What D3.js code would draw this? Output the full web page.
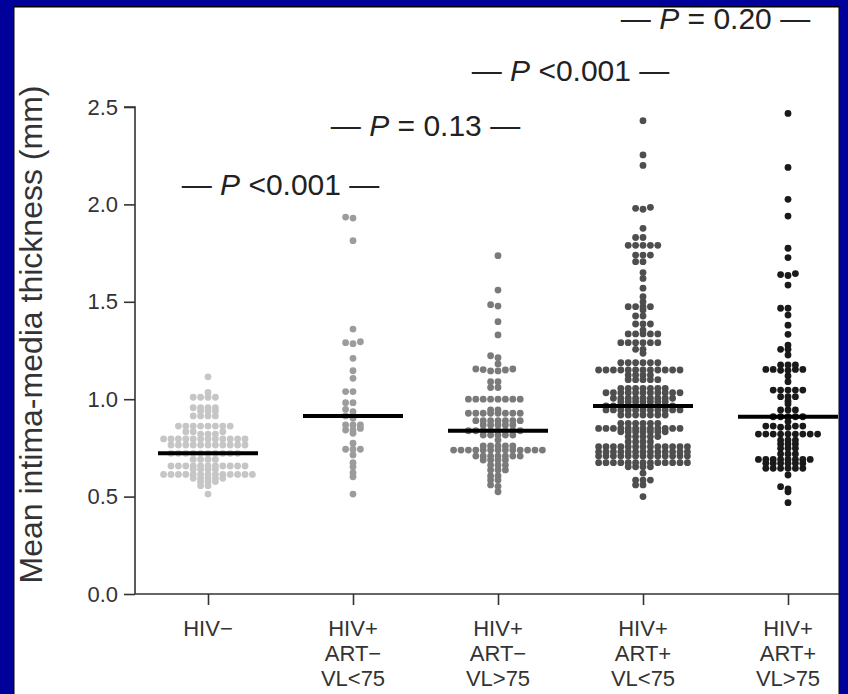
<!DOCTYPE html>
<html><head><meta charset="utf-8">
<script src="https://cdn.jsdelivr.net/npm/d3@7"></script>
<style>html,body{margin:0;padding:0;background:#00009a;overflow:hidden} svg{display:block}</style>
</head><body>
<svg id="c" width="848" height="694"></svg>
<script>
// ---------- data ----------
const categories = ["HIV−", "HIV+ ART− VL<75", "HIV+ ART− VL>75", "HIV+ ART+ VL<75", "HIV+ ART+ VL>75"];
const tickLabelLines = [["HIV−"], ["HIV+", "ART−", "VL<75"], ["HIV+", "ART−", "VL>75"], ["HIV+", "ART+", "VL<75"], ["HIV+", "ART+", "VL>75"]];
const yTicks = [0, 0.5, 1.0, 1.5, 2.0, 2.5];
const yTitle = "Mean intima-media thickness (mm)";

const hivNeg = [1.115, 1.035, 1.01, 1.01, 1.01, 1.01, 0.956, 0.956, 0.956, 0.956, 0.94, 0.94, 0.94,
  0.914, 0.914, 0.914, 0.914, 0.862, 0.862, 0.862, 0.862, 0.862, 0.862, 0.862, 0.862,
  0.833, 0.833, 0.833, 0.821, 0.821, 0.821,
  0.796, 0.796, 0.796, 0.796, 0.796, 0.796, 0.796, 0.796, 0.796, 0.796, 0.796, 0.796,
  0.765, 0.765, 0.765, 0.765, 0.765, 0.765, 0.765, 0.765, 0.765, 0.765, 0.765,
  0.722, 0.722, 0.722, 0.722, 0.722, 0.722, 0.722, 0.722, 0.722, 0.722,
  0.691, 0.691, 0.691, 0.691,
  0.657, 0.657, 0.657, 0.657, 0.657, 0.657, 0.657, 0.657, 0.657, 0.657, 0.657,
  0.64, 0.64, 0.64, 0.64,
  0.614, 0.614, 0.614, 0.614, 0.614, 0.614, 0.614, 0.614, 0.614, 0.614, 0.614, 0.614, 0.614,
  0.594, 0.594, 0.594, 0.594, 0.594, 0.577, 0.577, 0.577, 0.556, 0.556, 0.513];

const artNegVlLow = [1.935, 1.93, 1.814, 1.36, 1.295, 1.285, 1.29, 1.21, 1.146, 1.107, 1.039, 1.039,
  0.982, 0.982, 0.948, 0.936, 0.914, 0.902, 0.868, 0.868, 0.868, 0.85, 0.842, 0.842, 0.825,
  0.774, 0.743, 0.743, 0.743, 0.714, 0.674, 0.653, 0.623, 0.602, 0.513];

const artNegVlHigh = [1.737, 1.56, 1.485, 1.478, 1.398, 1.33, 1.223, 1.213, 1.181,
  1.155, 1.155, 1.152, 1.15, 1.145, 1.145, 1.09, 1.09, 1.06, 1.06,
  1.0, 1.0, 1.0, 1.0, 1.0, 1.0, 1.0, 1.0, 0.945, 0.945,
  0.928, 0.928, 0.928, 0.928, 0.928, 0.928, 0.928, 0.928,
  0.89, 0.89, 0.89, 0.89, 0.89, 0.89, 0.89, 0.868, 0.868, 0.868, 0.868, 0.868,
  0.838, 0.838, 0.838, 0.838, 0.838, 0.838, 0.838, 0.838, 0.816, 0.816, 0.816, 0.816, 0.816,
  0.79, 0.76, 0.76, 0.76, 0.76, 0.76,
  0.739, 0.739, 0.739, 0.739, 0.739, 0.739, 0.739, 0.739, 0.739, 0.739, 0.739, 0.739, 0.739,
  0.708, 0.708, 0.708, 0.708, 0.708, 0.708, 0.708, 0.688, 0.688, 0.688, 0.688,
  0.662, 0.662, 0.662, 0.637, 0.637, 0.637, 0.606, 0.606, 0.585, 0.585, 0.56, 0.553, 0.525];

const artPosVlLow = [2.43, 2.254, 2.2, 1.98, 1.985, 1.975, 1.877, 1.83, 1.83,
  1.79, 1.79, 1.79, 1.79, 1.79, 1.74, 1.74, 1.74, 1.706, 1.706,
  1.65, 1.62, 1.57, 1.526, 1.5, 1.475, 1.475, 1.475, 1.475, 1.458, 1.427, 1.427,
  1.386, 1.386, 1.386, 1.355, 1.335, 1.335, 1.335, 1.335, 1.335,
  1.29, 1.29, 1.29, 1.29, 1.29, 1.29, 1.256, 1.256, 1.236,
  1.187, 1.187, 1.187, 1.187, 1.187, 1.187,
  1.15, 1.15, 1.15, 1.15, 1.15, 1.15, 1.15, 1.15, 1.15, 1.15, 1.15, 1.15,
  1.124, 1.124, 1.124, 1.124, 1.1, 1.1, 1.1, 1.1, 1.1,
  1.056, 1.056, 1.056, 1.056, 1.056, 1.056, 1.056,
  1.033, 1.033, 1.033, 1.033, 1.033, 1.033, 1.033, 1.033, 1.033, 1.033, 1.033,
  1.005, 1.005, 1.005, 1.005, 1.005, 1.005, 1.005, 1.005, 1.005,
  0.987, 0.987, 0.987, 0.987, 0.987, 0.987, 0.987,
  0.965, 0.965, 0.965, 0.965, 0.965, 0.965, 0.965, 0.965, 0.965, 0.965,
  0.945, 0.945, 0.945, 0.945, 0.945, 0.945, 0.945, 0.945, 0.945, 0.945, 0.945,
  0.919, 0.919, 0.919, 0.919, 0.919, 0.919, 0.919,
  0.876, 0.876, 0.876, 0.876, 0.876, 0.876,
  0.85, 0.85, 0.85, 0.85, 0.85, 0.85, 0.85, 0.85, 0.85, 0.85, 0.85, 0.85,
  0.833, 0.833, 0.833, 0.833, 0.833, 0.833, 0.833,
  0.808, 0.808, 0.808, 0.808, 0.808, 0.782, 0.782, 0.782, 0.782,
  0.756, 0.756, 0.756, 0.756, 0.756, 0.756, 0.756, 0.756, 0.756, 0.756, 0.756, 0.756, 0.756,
  0.73, 0.73, 0.73, 0.73, 0.73, 0.73, 0.73, 0.73, 0.73, 0.73, 0.73, 0.73, 0.73,
  0.708, 0.708, 0.708, 0.708, 0.708, 0.708, 0.708, 0.708, 0.708, 0.708, 0.708, 0.708, 0.708,
  0.674, 0.674, 0.674, 0.674, 0.674, 0.674, 0.674, 0.674, 0.674, 0.674, 0.674, 0.674, 0.674,
  0.653, 0.653, 0.653, 0.653, 0.62, 0.585, 0.585, 0.585, 0.56, 0.56, 0.5];

const artPosVlHigh = [2.467, 2.19, 2.026, 1.94, 1.775, 1.727, 1.645, 1.64, 1.635, 1.586,
  1.467, 1.467, 1.432, 1.38, 1.333, 1.278, 1.256, 1.256, 1.227,
  1.176, 1.176, 1.176, 1.153, 1.153, 1.153, 1.153, 1.148, 1.148, 1.119, 1.09,
  1.047, 1.047, 1.047, 1.047, 1.047, 1.013, 1.013, 1.013, 0.99, 0.975,
  0.945, 0.945, 0.945, 0.91, 0.91, 0.91, 0.91, 0.91, 0.885,
  0.862, 0.862, 0.862, 0.862, 0.856, 0.856,
  0.821, 0.821, 0.821, 0.821, 0.821, 0.821, 0.821, 0.821, 0.821,
  0.79, 0.79, 0.79, 0.77, 0.77, 0.77, 0.748, 0.748, 0.748, 0.719, 0.719, 0.719,
  0.691, 0.691, 0.691, 0.691, 0.691, 0.691, 0.691, 0.691,
  0.671, 0.671, 0.671, 0.671, 0.671, 0.671,
  0.645, 0.645, 0.645, 0.645, 0.645, 0.645,
  0.611, 0.551, 0.54, 0.525, 0.469];

const seriesValues = [hivNeg, artNegVlLow, artNegVlHigh, artPosVlLow, artPosVlHigh];
const medians = [0.722, 0.914, 0.838, 0.965, 0.91];
const dotColors = ["#c6c6c6", "#9c9c9c", "#7a7a7a", "#4e4e4e", "#1a1a1a"];

const pPairs = [[0, 1], [1, 2], [2, 3], [3, 4]];
const pLabels = ["<0.001", "= 0.13", "<0.001", "= 0.20"];

// ---------- layout ----------
const W = 848, H = 694;
const svg = d3.select("#c");
const font = "'Liberation Sans', Arial, Helvetica, sans-serif";

// panel
svg.append("rect").attr("x", 13).attr("y", 6).attr("width", 826).attr("height", H).attr("fill", "#000");
svg.append("rect").attr("x", 14.5).attr("y", 7.5).attr("width", 824).attr("height", H).attr("fill", "#fff");

const g = svg.append("g");

const x = d3.scalePoint().domain(categories).range([208, 788]);
const y = d3.scaleLinear().domain([0, 2.5]).range([594, 107]);

// y axis
const yAxis = d3.axisLeft(y).tickValues(yTicks).tickFormat(d3.format(".1f")).tickSize(11).tickPadding(6);
const ya = g.append("g").attr("transform", "translate(135,0)").call(yAxis);
ya.select(".domain").attr("d", `M-11,${y(2.5)}H0V${y(0)}`).attr("stroke", "#333").attr("stroke-width", 1.6);
ya.selectAll(".tick line").attr("stroke", "#333").attr("stroke-width", 1.6);
ya.selectAll(".tick text").attr("font-family", font).attr("font-size", 22).attr("fill", "#333");

// x axis
const xAxis = d3.axisBottom(x).tickSize(11).tickFormat("");
const xa = g.append("g").attr("transform", `translate(0,${y(0)})`).call(xAxis);
xa.select(".domain").attr("d", `M135,0H840`).attr("stroke", "#333").attr("stroke-width", 1.6);
xa.selectAll(".tick line").attr("stroke", "#333").attr("stroke-width", 1.6);
categories.forEach((c, i) => {
  const t = g.append("text").attr("font-family", font).attr("font-size", 22).attr("fill", "#333")
    .attr("text-anchor", "middle");
  tickLabelLines[i].forEach((ln, j) => {
    t.append("tspan").attr("x", x(c)).attr("y", y(0) + 42 + j * 25).text(ln);
  });
});

// y title
g.append("text").attr("transform", `translate(42,${(y(0) + y(2.5)) / 2 - 16}) rotate(-90)`)
  .attr("text-anchor", "middle").attr("font-family", font).attr("font-size", 32).attr("fill", "#333")
  .text(yTitle);

// swarm placement (rows by value, center-out)
function swarm(values, cx, spacing, binPx) {
  const sorted = values.slice().sort((a, b) => a - b);
  const bins = [];
  let cur = null;
  for (const v of sorted) {
    if (!cur || Math.abs(y(v) - y(cur[0])) > binPx) { cur = [v]; bins.push(cur); }
    else cur.push(v);
  }
  const pts = [];
  bins.forEach(b => b.forEach((v, i) => {
    const k = Math.ceil(i / 2) * (i % 2 ? -1 : 1);
    pts.push({ v, x: cx + k * spacing, y: y(v) });
  }));
  return pts;
}

seriesValues.forEach((vals, i) => {
  const pts = swarm(vals, x(categories[i]), 7.4, 2.4);
  g.append("g").selectAll("circle").data(pts).join("circle")
    .attr("cx", d => d.x).attr("cy", d => d.y).attr("r", 3.4).attr("fill", dotColors[i]);
  g.append("line")
    .attr("x1", x(categories[i]) - 50).attr("x2", x(categories[i]) + 50)
    .attr("y1", y(medians[i])).attr("y2", y(medians[i]))
    .attr("stroke", "#000").attr("stroke-width", 4);
});

// p-value annotations
const pY = [195, 136, 81, 29];
pPairs.forEach((pr, i) => {
  const cx = (x(categories[pr[0]]) + x(categories[pr[1]])) / 2;
  const t = g.append("text").attr("x", cx).attr("y", pY[i]).attr("text-anchor", "middle")
    .attr("font-family", font).attr("font-size", 30).attr("fill", "#222");
  t.append("tspan").text("— ");
  t.append("tspan").attr("font-style", "italic").text("P");
  t.append("tspan").text(" " + pLabels[i] + " —");
});

// frame on top
svg.append("rect").attr("x", 0).attr("y", 0).attr("width", W).attr("height", 6).attr("fill", "#00009a");
svg.append("rect").attr("x", 0).attr("y", 0).attr("width", 13).attr("height", H).attr("fill", "#00009a");
svg.append("rect").attr("x", 839).attr("y", 0).attr("width", 9).attr("height", H).attr("fill", "#00009a");
</script>
</body></html>
